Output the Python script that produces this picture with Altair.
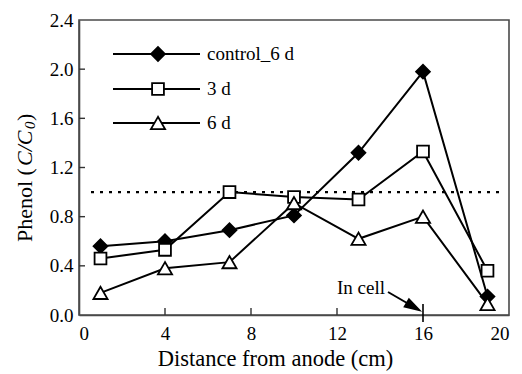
import altair as alt
import pandas as pd

# Sampling positions along the cell (cm from anode)
distance = [1, 4, 7, 10, 13, 16, 19]

# Normalised phenol concentration C/C0 for each run
control_6d = [0.56, 0.60, 0.69, 0.81, 1.32, 1.98, 0.15]
day_3 = [0.46, 0.53, 1.00, 0.96, 0.94, 1.33, 0.36]
day_6 = [0.18, 0.38, 0.43, 0.91, 0.62, 0.80, 0.09]

series_names = ["control_6 d", "3 d", "6 d"]
series_values = [control_6d, day_3, day_6]
series_shapes = ["diamond", "square", "triangle-up"]
series_fills = ["black", "white", "white"]
series_sizes = [190, 140, 200]

x_ticks = [0, 4, 8, 12, 16, 20]
y_ticks = [0.0, 0.4, 0.8, 1.2, 1.6, 2.0, 2.4]
initial_level = 1.0
cell_position = 16

FONT = "'Liberation Serif', 'Times New Roman', serif"
W, H = 430, 295

x_scale = alt.Scale(domain=[0, 20], nice=False)
y_scale = alt.Scale(domain=[0, 2.4], nice=False)

rows = []
for name, vals in zip(series_names, series_values):
    for d, v in zip(distance, vals):
        rows.append({"series": name, "distance": d, "phenol": v})
df = pd.DataFrame(rows)

x_axis = alt.Axis(
    values=x_ticks, format="d", tickSize=0, labelPadding=9,
    labelFont=FONT, labelFontSize=19, labelColor="black",
    domainColor="#4a4a4a", domainWidth=1.6, grid=False,
    title="Distance from anode (cm)", titleFont=FONT, titleFontSize=22.5,
    titleFontWeight="normal", titleColor="black",
    titleX=196, titleY=50, titleBaseline="alphabetic",
)
y_axis = alt.Axis(
    values=y_ticks, format=".1f", tickSize=0, labelPadding=6,
    labelFont=FONT, labelFontSize=19, labelColor="black",
    domainColor="#4a4a4a", domainWidth=1.6, grid=False, title=None,
)

base = alt.Chart(df)

# invisible layer carrying the axes
axes = base.mark_point(opacity=0).encode(
    x=alt.X("distance:Q", scale=x_scale, axis=x_axis),
    y=alt.Y("phenol:Q", scale=y_scale, axis=y_axis),
)

layers = [axes]

# dotted line at the initial concentration
layers.append(
    alt.Chart(pd.DataFrame({"level": [initial_level]})).mark_rule(
        color="black", strokeWidth=2.2, strokeDash=[3, 6]
    ).encode(
        y=alt.Y("level:Q", scale=y_scale),
        x=alt.value(12), x2=alt.value(426),
    )
)

# inward tick marks
x_tick_df = pd.DataFrame({"t": [4, 8, 12]})
layers.append(
    alt.Chart(x_tick_df).mark_rule(color="#333333", strokeWidth=1.4).encode(
        x=alt.X("t:Q", scale=x_scale), y=alt.value(H - 7), y2=alt.value(H)
    )
)
y_tick_df = pd.DataFrame({"t": [0.4, 0.8, 1.2, 1.6, 2.0]})
layers.append(
    alt.Chart(y_tick_df).mark_rule(color="#333333", strokeWidth=1.4).encode(
        y=alt.Y("t:Q", scale=y_scale), x=alt.value(0), x2=alt.value(6)
    )
)

# series lines and markers
for name in series_names:
    sub = base.transform_filter(alt.datum.series == name)
    layers.append(
        sub.mark_line(color="black", strokeWidth=2).encode(
            x=alt.X("distance:Q", scale=x_scale),
            y=alt.Y("phenol:Q", scale=y_scale),
        )
    )
for name, shape, fill, size in zip(series_names, series_shapes, series_fills, series_sizes):
    sub = base.transform_filter(alt.datum.series == name)
    layers.append(
        sub.mark_point(shape=shape, filled=True, fill=fill, stroke="black",
                       strokeWidth=1.8, size=size, opacity=1).encode(
            x=alt.X("distance:Q", scale=x_scale),
            y=alt.Y("phenol:Q", scale=y_scale),
        )
    )

# legend drawn inside the plot
legend_rows = [34, 69, 103]
for name, shape, fill, size, ly in zip(series_names, series_shapes, series_fills, series_sizes, legend_rows):
    one = alt.Chart(pd.DataFrame({"label": [name]}))
    layers.append(
        one.mark_rule(color="black", strokeWidth=2).encode(
            x=alt.value(34), x2=alt.value(121), y=alt.value(ly)
        )
    )
    layers.append(
        one.mark_point(shape=shape, filled=True, fill=fill, stroke="black",
                       strokeWidth=1.8, size=size, opacity=1).encode(
            x=alt.value(79), y=alt.value(ly)
        )
    )
    layers.append(
        one.mark_text(font=FONT, fontSize=19, align="left", baseline="middle",
                      color="black").encode(
            x=alt.value(128), y=alt.value(ly), text="label:N"
        )
    )

# "In cell" marker on the x axis
layers.append(
    alt.Chart(pd.DataFrame({"pos": [cell_position]})).mark_rule(
        color="black", strokeWidth=1.6
    ).encode(x=alt.X("pos:Q", scale=x_scale), y=alt.value(284), y2=alt.value(302))
)
note = alt.Chart(pd.DataFrame({"label": ["In cell"]}))
layers.append(
    note.mark_text(font=FONT, fontSize=19, align="left", baseline="middle",
                   color="black").encode(x=alt.value(258), y=alt.value(268), text="label:N")
)
layers.append(
    note.mark_rule(color="black", strokeWidth=2).encode(
        x=alt.value(309), y=alt.value(272), x2=alt.value(334), y2=alt.value(286.5)
    )
)
layers.append(
    note.mark_point(shape="M0,-1L0.6,1L-0.6,1Z", filled=True, fill="black",
                    stroke="black", size=200, angle=120, opacity=1).encode(
        x=alt.value(334), y=alt.value(286.5)
    )
)

# y-axis title with italic C/C0
title_parts = [
    ("Phenol (", "normal", 22, 0),
    ("C/C", "italic", 22, 0),
    ("0", "italic", 15, 5),
    (")", "normal", 22, 0),
]
part_widths = [76, 37, 8, 8]
ty = 222
for (txt, style, fs, dx), w in zip(title_parts, part_widths):
    layers.append(
        alt.Chart(pd.DataFrame({"label": [txt]})).mark_text(
            font=FONT, fontSize=fs, fontStyle=style, align="left",
            baseline="middle", angle=270, color="black",
        ).encode(x=alt.value(-54 + dx), y=alt.value(ty), text="label:N")
    )
    ty -= w

chart = alt.layer(*layers).properties(
    width=W, height=H,
    padding={"left": 79, "top": 20, "right": 13, "bottom": 59},
    autosize="none",
).configure_view(stroke="#4a4a4a", strokeWidth=1.6)

chart.save("out.html", embed_options={"renderer": "svg", "actions": False})
